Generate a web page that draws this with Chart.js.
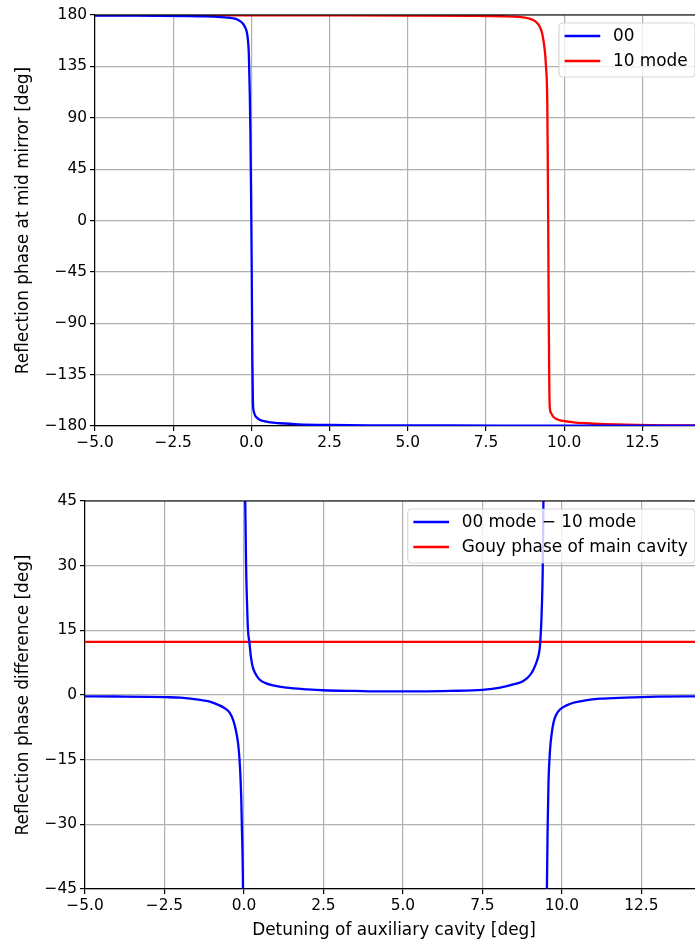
<!DOCTYPE html>
<html>
<head>
<meta charset="utf-8">
<script src="https://cdn.jsdelivr.net/npm/chart.js@4.4.1/dist/chart.umd.min.js"></script>
<style>
  html, body { margin: 0; padding: 0; background: #fff; overflow: hidden; width: 695px; height: 944px; }
  .panel { position: absolute; left: 0; width: 703px; }
  #top { top: 0; height: 470px; }
  #bottom { top: 470px; height: 474px; }
</style>
</head>
<body>
<div class="panel" id="top"><canvas id="phaseChart"></canvas></div>
<div class="panel" id="bottom"><canvas id="diffChart"></canvas></div>
<script>
// ticks
const xTicks = [-5, -2.5, 0, 2.5, 5, 7.5, 10, 12.5];
const phaseTicks = [-180, -135, -90, -45, 0, 45, 90, 135, 180];
const diffTicks = [-45, -30, -15, 0, 15, 30, 45];
const X_MIN = -5, X_MAX = 14.44;

// top: reflection phase, 00 mode
const blue00X = [-5, -4, -3, -2, -1.65, -1.2, -0.69, -0.5, -0.37, -0.28, -0.21, -0.15, -0.11, -0.08, -0.05, -0.03, -0.01, 0.01, 0.03, 0.05, 0.08, 0.11, 0.16, 0.25, 0.37, 0.6, 0.91, 1.5, 2.5, 4, 6, 8, 10, 12, 14.44];
const blue00Y = [179.5, 179.4, 179.3, 179.0, 178.8, 178.5, 177.6, 176.6, 174.8, 172.8, 169.8, 165.5, 158, 145, 110, 75, 25, -40, -120, -160, -167.5, -170.2, -172.4, -174.4, -175.6, -176.9, -177.6, -178.5, -179.1, -179.4, -179.55, -179.65, -179.7, -179.75, -179.8];

// top: reflection phase, 10 mode
const red10X = [-5, 0, 3, 5, 7, 8, 8.58, 9.01, 9.15, 9.22, 9.3, 9.38, 9.42, 9.46, 9.475, 9.49, 9.505, 9.52, 9.54, 9.58, 9.65, 9.75, 9.97, 10.3, 10.72, 11.3, 12.32, 13.2, 14.44];
const red10Y = [179.85, 179.8, 179.7, 179.5, 179.2, 178.9, 178.3, 175.6, 172.5, 169.8, 163.5, 149.3, 135, 105.5, 60, 0, -70, -130, -163, -168.5, -171.8, -173.8, -175.6, -176.8, -177.6, -178.3, -179.1, -179.4, -179.55];

// bottom: phase difference (null = wrap gap)
const diffX = [-5, -4, -3, -2.45, -2, -1.5, -1.1, -0.77, -0.6, -0.45, -0.33, -0.24, -0.18, -0.14, -0.11, -0.085, -0.06, -0.03, -0.01, 0.005, 0.02, 0.04, 0.07, 0.094, 0.126, 0.17, 0.22, 0.28, 0.38, 0.49, 0.7, 0.91, 1.33, 2, 2.5, 3.5, 4.5, 5.5, 6.5, 7.5, 8.06, 8.5, 8.79, 9.0, 9.11, 9.22, 9.3, 9.32, 9.36, 9.4, 9.42, 9.44, 9.475, 9.51, 9.53, 9.555, 9.58, 9.63, 9.68, 9.74, 9.82, 9.95, 10.15, 10.36, 10.7, 11.2, 12, 13, 14.44];
const diffY = [-0.3, -0.35, -0.42, -0.5, -0.62, -1.0, -1.5, -2.4, -3.1, -4.1, -6.0, -8.7, -11.5, -14.9, -19, -24, -32, -45, -70, null, 70, 45, 29, 22, 15.2, 12.3, 8.8, 6.4, 4.7, 3.6, 2.7, 2.25, 1.7, 1.3, 1.1, 0.95, 0.85, 0.85, 0.95, 1.2, 1.7, 2.5, 3.25, 4.6, 6.0, 8.0, 10.6, 12.3, 18, 30, 45, 70, null, -70, -45, -30, -20.3, -12.6, -9, -6.3, -4.6, -3.3, -2.4, -1.8, -1.3, -0.85, -0.6, -0.4, -0.3];

// bottom: gouy phase of main cavity
const gouyX = [-5, 14.44];
const gouyY = [12.3, 12.3];

const TICK_FONT = { family: 'DejaVu Sans', size: 15.4 };
const LABEL_SIZE = 16.9;
const LABEL_FONT = { family: 'DejaVu Sans', size: LABEL_SIZE };
const minus = s => s.replace('-', '\u2212');
const pts = (xs, ys) => xs.map((x, i) => ({ x: x, y: ys[i] }));

function line(label, color, data) {
    return { label: label, data: data, borderColor: color, backgroundColor: color, borderWidth: 2.3,
             borderJoinStyle: 'round', borderCapStyle: 'butt', cubicInterpolationMode: 'monotone',
             pointRadius: 0, fill: false, spanGaps: false };
}

function xAxis(height, title) {
    return {
        type: 'linear', min: X_MIN, max: X_MAX,
        afterBuildTicks: s => { s.ticks = xTicks.map(v => ({ value: v })); },
        afterFit: s => { s.height = height; },
        ticks: { font: TICK_FONT, color: '#000', padding: 3, maxRotation: 0, autoSkip: false,
                 callback: v => minus(Number(v).toFixed(1)) },
        grid: { color: '#b0b0b0', lineWidth: 1.2, tickColor: '#000', tickLength: 5, tickWidth: 1.2 },
        border: { color: '#000', width: 1.2 },
        title: title ? { display: true, text: title, font: LABEL_FONT, color: '#000', padding: { top: 0, bottom: 3 } } : { display: false }
    };
}

function yAxis(width, min, max, tickList, title) {
    return {
        min: min, max: max,
        afterBuildTicks: s => { s.ticks = tickList.map(v => ({ value: v })); },
        afterFit: s => { s.width = width; },
        ticks: { font: TICK_FONT, color: '#000', padding: 3, autoSkip: false, callback: v => minus(String(v)) },
        grid: { color: '#b0b0b0', lineWidth: 1.2, tickColor: '#000', tickLength: 5, tickWidth: 1.2 },
        border: { color: '#000', width: 1.2 },
        title: { display: true, text: title, font: LABEL_FONT, color: '#000', padding: { top: 13, bottom: 0 } }
    };
}

// top + right spines
const frame = {
    id: 'frame',
    afterDatasetsDraw(chart) {
        const { ctx, chartArea: a } = chart;
        ctx.save();
        ctx.strokeStyle = '#000';
        ctx.lineWidth = 1.2;
        ctx.beginPath();
        ctx.moveTo(a.left, a.top); ctx.lineTo(a.right, a.top); ctx.lineTo(a.right, a.bottom);
        ctx.stroke();
        ctx.restore();
    }
};

// matplotlib-like legend in the upper right
const boxLegend = {
    id: 'boxLegend',
    afterDraw(chart) {
        const { ctx, chartArea: a } = chart;
        const sets = chart.data.datasets;
        ctx.save();
        ctx.font = LABEL_SIZE + 'px "DejaVu Sans"';
        const textW = Math.max(...sets.map(d => ctx.measureText(d.label).width));
        const w = 5.7 + 35.6 + 12.7 + textW + 7.3;
        const h = 54;
        const x = a.right - 8 - w, y = a.top + 8;
        ctx.beginPath();
        ctx.roundRect(x, y, w, h, 4);
        ctx.fillStyle = 'rgba(255,255,255,0.8)';
        ctx.fill();
        ctx.strokeStyle = 'rgba(204,204,204,0.8)';
        ctx.lineWidth = 1.2;
        ctx.stroke();
        sets.forEach((d, i) => {
            const cy = y + 13 + i * 25;
            ctx.strokeStyle = d.borderColor;
            ctx.lineWidth = 2.3;
            ctx.beginPath();
            ctx.moveTo(x + 5.7, cy);
            ctx.lineTo(x + 41.3, cy);
            ctx.stroke();
            ctx.fillStyle = '#000';
            ctx.textBaseline = 'middle';
            ctx.fillText(d.label, x + 54, cy + 1);
        });
        ctx.restore();
    }
};

Chart.defaults.color = '#000';
Chart.defaults.font.family = 'DejaVu Sans';

new Chart(document.getElementById('phaseChart'), {
    type: 'line',
    data: {
        datasets: [
            line('00', '#0000ff', pts(blue00X, blue00Y)),
            line('10 mode', '#ff0000', pts(red10X, red10Y))
        ]
    },
    options: {
        responsive: true, maintainAspectRatio: false, animation: false,
        layout: { padding: { top: 15, left: 0, right: 0, bottom: 0 } },
        plugins: { legend: { display: false }, tooltip: { enabled: false } },
        scales: {
            x: xAxis(44, null),
            y: yAxis(95, -180, 180, phaseTicks, 'Reflection phase at mid mirror [deg]')
        }
    },
    plugins: [frame, boxLegend]
});

new Chart(document.getElementById('diffChart'), {
    type: 'line',
    data: {
        datasets: [
            line('00 mode \u2212 10 mode', '#0000ff', pts(diffX, diffY)),
            line('Gouy phase of main cavity', '#ff0000', pts(gouyX, gouyY))
        ]
    },
    options: {
        responsive: true, maintainAspectRatio: false, animation: false,
        layout: { padding: { top: 31, left: 0, right: 0, bottom: 0 } },
        plugins: { legend: { display: false }, tooltip: { enabled: false } },
        scales: {
            x: xAxis(55, 'Detuning of auxiliary cavity [deg]'),
            y: yAxis(85, -45, 45, diffTicks, 'Reflection phase difference [deg]')
        }
    },
    plugins: [frame, boxLegend]
});
</script>
</body>
</html>
